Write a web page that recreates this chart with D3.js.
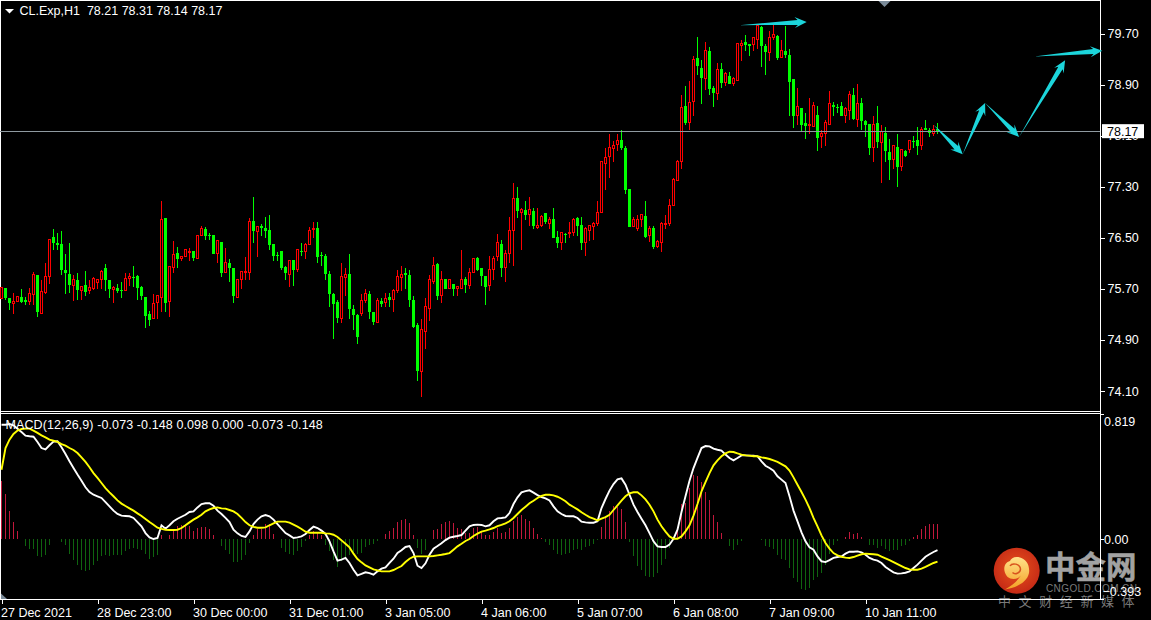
<!DOCTYPE html>
<html>
<head>
<meta charset="utf-8">
<script src="https://cdnjs.cloudflare.com/ajax/libs/d3/7.8.5/d3.min.js"></script>
<style>
html,body{margin:0;padding:0;background:#000;overflow:hidden}
svg{display:block}
text{font-family:"Liberation Sans",Arial,sans-serif;font-size:12.5px;fill:#fff}
</style>
</head>
<body>
<svg id="c" width="1151" height="620"></svg>
<script>
const opens=[
75.55,75.71,75.56,75.47,75.50,75.57,75.53,75.50,75.61,75.92,
75.32,75.64,75.89,76.51,76.42,76.40,76.00,75.93,75.75,75.84,
75.68,75.76,75.67,75.70,75.80,75.84,76.03,75.84,75.69,75.71,
75.68,75.67,75.86,75.89,75.90,75.73,75.57,75.31,75.23,75.48,
75.56,76.81,75.50,76.03,76.26,76.17,76.21,76.29,76.29,76.17,
76.53,76.64,76.54,76.54,76.26,76.43,75.95,76.11,76.03,75.56,
75.85,75.95,75.95,76.76,76.60,76.68,76.65,76.62,76.40,76.23,
76.29,76.04,75.93,76.15,76.01,
76.29,76.28,76.40,76.63,76.65,76.23,76.22,75.93,75.62,75.50,
75.24,75.88,75.93,75.39,75.29,75.31,75.51,75.62,75.34,75.17,
75.51,75.48,75.57,75.54,75.68,75.88,75.95,75.92,75.53,75.13,
74.40,75.03,75.39,75.81,76.09,75.60,75.85,75.71,75.78,75.70,
75.70,75.85,75.76,75.95,76.18,76.03,75.90,75.75,76.00,76.20,
76.40,76.03,76.25,76.62,77.12,76.90,76.94,76.86,76.92,76.66,
76.69,76.89,76.73,76.79,76.51,76.42,76.56,76.56,76.59,76.81,
76.70,76.42,76.62,76.67,76.72,
76.89,77.67,77.77,77.90,77.96,78.03,77.91,77.27,76.67,76.64,
76.78,76.84,76.53,76.65,76.36,76.43,76.72,76.72,77.01,77.40,
77.69,78.56,78.30,78.64,79.32,79.16,78.99,79.43,78.85,78.76,
79.14,78.94,79.03,78.91,78.97,79.51,79.57,79.54,79.52,79.60,
79.80,79.50,79.40,79.63,79.66,79.33,79.43,79.36,78.99,78.42,
78.53,78.30,78.26,78.25,78.42,78.08,78.13,78.28,78.58,78.55,
78.56,78.42,78.49,78.74,78.36,78.61,78.33,78.28,77.91,78.30,
78.00,78.14,77.84,77.73,77.92,77.61,77.86,77.89,78.02,78.03,
77.95,78.22,78.19,78.13,78.21];
const highs=[
75.72,75.71,75.56,75.65,75.58,75.71,75.58,75.72,75.97,75.92,
75.85,76.12,76.49,76.65,76.59,76.61,76.26,76.43,75.93,75.95,
75.76,75.98,75.84,75.90,75.87,76.01,76.09,75.84,75.75,75.79,
75.82,75.95,75.95,76.07,75.92,75.75,75.57,75.36,75.63,75.60,
77.09,76.81,76.07,76.45,76.37,76.23,76.32,76.34,76.29,76.54,
76.70,76.68,76.59,76.54,76.45,76.43,76.34,76.18,76.04,75.85,
75.98,76.21,76.81,77.15,76.70,76.73,76.83,76.86,76.40,76.29,
76.29,76.07,76.15,76.15,76.32,
76.43,76.43,76.67,76.76,76.76,76.29,76.25,75.98,75.65,75.53,
76.11,76.04,76.26,75.46,75.31,75.62,75.71,75.68,75.34,75.57,
75.56,75.64,75.65,75.70,76.00,76.07,76.03,76.00,75.59,75.18,
75.24,75.56,75.92,76.20,76.12,75.98,75.85,75.85,75.78,75.76,
76.31,75.89,76.03,76.18,76.20,76.04,75.90,76.23,76.22,76.56,
76.48,76.31,76.84,77.37,77.30,76.98,77.08,77.14,76.98,76.97,
76.86,76.89,76.83,76.97,76.61,76.59,76.59,76.76,76.81,76.83,
76.84,76.67,76.70,76.76,77.08,
77.69,77.92,78.13,78.02,78.14,78.19,77.95,77.27,76.84,76.87,
76.87,77.08,76.70,76.70,76.48,76.76,76.87,77.12,77.44,77.73,
78.75,78.89,78.97,79.36,79.65,79.30,79.57,79.50,78.88,79.24,
79.25,79.10,79.10,79.03,79.54,79.60,79.68,79.54,79.63,79.86,
79.83,79.55,79.75,79.84,79.69,79.61,79.82,79.47,79.00,78.85,
78.53,78.47,78.69,78.64,78.58,78.20,78.35,78.81,78.64,78.60,
78.63,78.55,78.81,78.85,78.92,78.69,78.36,78.28,78.41,78.58,
78.27,78.24,78.06,77.95,78.14,77.89,77.89,78.02,78.10,78.25,
78.25,78.35,78.22,78.28,78.31];
const lows=[
75.55,75.53,75.37,75.31,75.50,75.49,75.46,75.45,75.46,75.26,
75.32,75.62,75.78,76.31,76.32,75.93,75.62,75.65,75.52,75.53,
75.53,75.59,75.63,75.69,75.70,75.70,75.67,75.56,75.48,75.65,
75.57,75.67,75.75,75.73,75.54,75.53,75.09,75.12,75.23,75.24,
75.34,75.34,75.27,75.95,76.04,76.15,76.20,76.15,76.14,76.17,
76.53,76.48,76.48,76.25,76.11,75.89,75.95,75.81,75.49,75.56,
75.71,75.85,75.85,76.43,76.20,76.53,76.50,76.31,76.15,76.15,
76.01,75.85,75.73,75.75,75.97,
76.23,76.18,76.39,76.51,76.12,76.06,75.85,75.43,74.92,75.17,
75.17,75.60,75.24,75.06,74.85,75.29,75.48,75.23,75.14,75.17,
75.42,75.43,75.43,75.35,75.64,75.68,75.70,75.43,75.10,74.26,
74.01,74.77,75.21,75.78,75.54,75.48,75.70,75.70,75.60,75.60,
75.70,75.64,75.70,75.95,75.98,75.75,75.45,75.67,75.84,76.14,
75.90,75.82,76.12,76.07,76.81,76.31,76.79,76.70,76.64,76.64,
76.67,76.72,76.65,76.50,76.34,76.32,76.43,76.50,76.53,76.53,
76.31,76.22,76.45,76.47,76.69,
76.89,77.25,77.44,77.70,77.86,77.89,77.19,76.67,76.67,76.62,
76.67,76.50,76.44,76.33,76.34,76.29,76.65,76.69,77.01,77.39,
77.58,78.27,78.20,78.42,79.05,78.61,78.83,78.74,78.55,78.67,
78.85,78.88,78.91,78.88,78.97,79.27,79.43,79.36,79.43,79.47,
79.19,79.05,79.27,79.60,79.29,79.32,79.33,78.42,78.22,78.28,
78.16,78.06,78.13,78.25,77.86,77.92,77.94,78.27,78.41,78.47,
78.41,78.30,78.35,78.35,78.25,78.19,78.09,77.80,77.70,77.91,
77.36,77.69,77.41,77.58,77.31,77.55,77.77,77.83,77.91,77.80,
77.89,78.19,78.09,78.11,78.14];
const closes=[
75.72,75.56,75.48,75.50,75.58,75.49,75.50,75.63,75.93,75.33,
75.66,75.90,76.48,76.42,76.39,76.00,75.95,75.76,75.85,75.68,
75.74,75.65,75.72,75.86,75.85,75.97,75.84,75.70,75.72,75.67,
75.67,75.87,75.90,75.88,75.71,75.59,75.27,75.21,75.47,75.59,
76.79,75.48,76.05,76.24,76.17,76.21,76.32,76.29,76.18,76.54,
76.65,76.53,76.53,76.25,76.45,75.95,76.12,76.03,75.59,75.85,
75.97,75.97,76.76,76.61,76.67,76.65,76.61,76.39,76.21,76.22,
76.03,75.95,76.15,76.00,76.31,
76.27,76.40,76.62,76.65,76.20,76.22,75.93,75.62,75.46,75.24,
75.90,75.92,75.39,75.29,74.95,75.51,75.62,75.34,75.18,75.51,
75.46,75.55,75.53,75.68,75.90,75.93,75.92,75.53,75.10,74.41,
75.06,75.42,75.85,76.07,75.59,75.85,75.70,75.84,75.70,75.73,
75.85,75.76,75.96,76.18,76.00,75.90,75.73,76.01,76.18,76.42,
76.03,76.25,76.62,77.12,76.92,76.94,76.86,76.94,76.69,76.70,
76.83,76.75,76.78,76.50,76.42,76.58,76.54,76.59,76.79,76.69,
76.42,76.65,76.69,76.72,76.90,
77.69,77.76,77.92,77.95,78.03,77.91,77.25,76.67,76.79,76.79,
76.86,76.51,76.65,76.36,76.44,76.72,76.73,77.01,77.42,77.70,
78.54,78.30,78.62,79.30,79.19,79.00,79.44,78.83,78.77,79.14,
78.92,79.07,78.91,79.00,79.54,79.55,79.52,79.50,79.63,79.83,
79.50,79.41,79.63,79.68,79.32,79.43,79.36,78.94,78.41,78.55,
78.27,78.25,78.27,78.58,78.06,78.14,78.31,78.60,78.55,78.54,
78.41,78.52,78.74,78.36,78.60,78.33,78.27,77.91,78.28,78.00,
78.16,77.86,77.72,77.94,77.61,77.88,77.78,78.02,78.00,77.94,
78.20,78.19,78.14,78.20,78.17];
const macdMain=[
.749,.749,.753,.745,.723,.701,.677,.673,.670,.636,
.596,.587,.614,.638,.640,.601,.557,.509,.465,.422,
.382,.339,.308,.290,.280,.269,.242,.214,.186,.164,
.153,.151,.149,.138,.111,.083,.039,.011,0,.007,
.090,.068,.090,.116,.133,.146,.159,.177,.181,.207,
.229,.234,.234,.218,.186,.164,.138,.111,.061,.037,
.020,.013,.050,.098,.127,.149,.157,.149,.127,.098,
.068,.039,.024,.007,.011,.017,.033,.059,.081,.072,
.055,.033,-.015,-.081,-.142,-.135,-.124,-.157,-.201,-.238,
-.229,-.218,-.223,-.234,-.212,-.194,-.186,-.157,-.129,-.092,
-.074,-.052,-.046,-.092,-.175,-.190,-.159,-.103,-.063,-.046,
-.028,-.007,.009,.015,.020,.026,.055,.083,.092,.094,
.092,.083,.090,.116,.135,.138,.142,.170,.229,.273,
.306,.314,.319,.304,.288,.275,.266,.253,.214,.181,
.164,.151,.149,.149,.138,.114,.109,.107,.107,.116,
.203,.262,.317,.360,.391,.397,.356,.290,.225,.177,
.133,.090,.039,-.015,-.048,-.052,-.052,-.037,.002,.061,
.177,.280,.382,.465,.531,.596,.609,.607,.592,.585,
.579,.553,.531,.515,.531,.548,.548,.546,.546,.542,
.509,.480,.465,.448,.411,.389,.367,.280,.186,.116,
.044,-.015,-.055,-.070,-.114,-.146,-.151,-.138,-.124,-.118,
-.114,-.096,-.083,-.083,-.081,-.087,-.103,-.124,-.135,-.142,
-.157,-.183,-.201,-.218,-.227,-.225,-.221,-.212,-.190,-.168,
-.142,-.116,-.100,-.085,-.073];
const macdSignal=[
.454,.596,.651,.688,.710,.721,.723,.723,.710,.695,
.679,.666,.651,.644,.636,.622,.612,.596,.583,.563,
.535,.505,.470,.432,.400,.367,.334,.306,.280,.253,
.232,.216,.201,.186,.168,.151,.131,.111,.094,.074,
.066,.061,.059,.059,.061,.072,.090,.109,.127,.142,
.159,.181,.194,.203,.207,.201,.199,.190,.181,.164,
.138,.111,.090,.079,.074,.074,.076,.090,.103,.114,
.114,.114,.107,.094,.081,.066,.048,.041,.041,.041,
.041,.037,.035,.028,.013,-.009,-.031,-.055,-.096,-.131,
-.153,-.173,-.186,-.199,-.205,-.212,-.212,-.212,-.203,-.190,
-.177,-.151,-.129,-.116,-.114,-.114,-.114,-.114,-.111,-.107,
-.103,-.098,-.092,-.070,-.048,-.031,-.013,0,.020,.035,
.048,.055,.063,.072,.085,.092,.103,.116,.138,.164,
.190,.212,.234,.251,.269,.282,.290,.290,.286,.277,
.264,.247,.225,.210,.194,.175,.159,.144,.133,.122,
.133,.144,.159,.190,.221,.251,.280,.299,.306,.306,
.286,.260,.225,.181,.127,.083,.048,.017,.002,.002,
.017,.050,.090,.153,.229,.312,.373,.432,.483,.515,
.542,.561,.572,.570,.561,.553,.548,.546,.542,.542,
.535,.531,.524,.515,.505,.491,.476,.448,.404,.356,
.308,.258,.203,.138,.083,.024,-.026,-.063,-.092,-.107,
-.116,-.122,-.124,-.118,-.109,-.100,-.096,-.098,-.100,-.103,
-.116,-.127,-.138,-.151,-.164,-.177,-.190,-.199,-.201,-.201,
-.194,-.183,-.170,-.157,-.148];
const macdHist=[
.382,.295,.186,.111,.050,.002,-.046,-.068,-.066,-.109,
-.120,-.103,-.037,-.002,.002,-.020,-.041,-.098,-.135,-.173,
-.201,-.212,-.201,-.168,-.146,-.114,-.107,-.109,-.107,-.107,
-.103,-.081,-.063,-.059,-.063,-.072,-.096,-.129,-.120,-.103,
.024,0,.028,.061,.083,.094,.090,.083,.055,.072,
.079,.079,.066,.024,.002,-.046,-.070,-.096,-.153,-.151,
-.135,-.103,-.028,.024,.068,.068,.098,.098,.033,.002,
-.059,-.085,-.098,-.103,-.081,-.055,-.011,.024,.055,.039,
.024,-.037,-.081,-.135,-.186,-.146,-.124,-.103,-.092,-.098,
-.092,-.055,-.041,-.033,-.015,.002,.033,.055,.072,.111,
.127,.133,.105,.028,-.059,-.096,-.070,-.002,.061,.066,
.100,.114,.120,.105,.072,.066,.039,.039,.072,.076,
.050,.028,.028,.046,.072,.039,.044,.072,.116,.142,
.159,.133,.120,.072,.033,.007,-.020,-.037,-.072,-.098,
-.107,-.098,-.094,-.072,-.063,-.070,-.055,-.046,-.033,-.004,
.076,.149,.186,.214,.207,.199,.109,-.022,-.114,-.177,
-.205,-.245,-.247,-.251,-.223,-.173,-.129,-.059,0,.061,
.229,.236,.334,.417,.415,.373,.308,.258,.159,.109,
.041,0,-.046,-.070,-.037,-.011,-.002,-.002,0,.002,
-.004,-.048,-.055,-.068,-.107,-.129,-.135,-.188,-.256,-.282,
-.325,-.332,-.321,-.266,-.251,-.223,-.168,-.098,-.037,-.015,
0,.015,.046,.035,.039,.015,0,-.041,-.041,-.059,
-.048,-.063,-.081,-.072,-.074,-.048,-.037,-.011,.015,.028,
.066,.087,.100,.098,.098];
const priceTicks=[79.70,78.90,78.10,77.30,76.50,75.70,74.90,74.10];
const macdTicks=[0.819,0,-0.393];
const timeLabels=["27 Dec 2021","28 Dec 23:00","30 Dec 00:00","31 Dec 01:00","3 Jan 05:00","4 Jan 06:00","5 Jan 07:00","6 Jan 08:00","7 Jan 09:00","10 Jan 11:00"];
const lastPrice=78.17;
const titleText="CL.Exp,H1  78.21 78.31 78.14 78.17";
const macdTitle="MACD(12,26,9) -0.073 -0.148 0.098 0.000 -0.073 -0.148";
const arrows=[
 [[184.4,79.83],[201.3,79.88]],
 [[233,78.27],[240.3,77.81]],
 [[240.3,77.81],[245.9,78.61]],
 [[245.9,78.61],[254.4,78.08]],
 [[254.4,78.08],[265.9,79.28]],
 [[258.2,79.34],[275.2,79.43]]];
const wmTitle="中金网", wmSite="CNGOLD.COM.CN", wmTag="中文财经新媒体";

const svg=d3.select("#c");
svg.append("rect").attr("width",1151).attr("height",620).attr("fill","#000");
const x=d3.scaleLinear().domain([0,234]).range([1.5,937.5]);
const y=d3.scaleLinear().domain([74.10,79.70]).range([391,33.5]);
const m=d3.scaleLinear().domain([-0.393,0.819]).range([599,414]);
const crisp=v=>Math.round(v-.5)+.5;

/* watermark sits under the axes */
const defs=svg.append("defs");
const rg=defs.append("radialGradient").attr("id","logoBg").attr("cx","50%").attr("cy","45%").attr("r","55%");
rg.append("stop").attr("offset","0%").attr("stop-color","#e8521c");
rg.append("stop").attr("offset","100%").attr("stop-color","#c52a16");
const lg=defs.append("linearGradient").attr("id","logoFg").attr("x1","0").attr("y1","0").attr("x2","0").attr("y2","1");
lg.append("stop").attr("offset","0%").attr("stop-color","#ffe28a");
lg.append("stop").attr("offset","100%").attr("stop-color","#f4a024");
const wm=svg.append("g");
wm.append("circle").attr("cx",1016.7).attr("cy",570.7).attr("r",23).attr("fill","url(#logoBg)");
wm.append("path").attr("fill","url(#logoFg)")
 .attr("d","M1005,589.5 C1015,588 1027,583 1029,573 C1030,565 1026,559 1020,557.5 C1015,556 1011,558 1010,561 C1006,562 1003.5,566 1004.5,571 C1005.5,576 1009,579 1013.5,579 C1018,579 1022,576 1022,571 C1021.5,577 1016,583 1005,589.5 Z");
wm.append("path").attr("fill","none").attr("stroke","#d8541e").attr("stroke-width",1.5)
 .attr("d","M1010,566 C1012,562.5 1020,563.5 1020.5,569 C1020.5,573 1015,575 1012.5,572.5");
wm.append("text").text(wmTitle).attr("x",1045).attr("y",578)
 .style("font-family","'Noto Sans CJK SC'").style("font-weight",700).style("font-size","30.5px")
 .style("fill","#a2a2a2").style("stroke","#a2a2a2").style("stroke-width","0.5px");
wm.append("text").text(wmSite).attr("x",1046).attr("y",592)
 .style("font-size","10px").style("letter-spacing","0.4px").style("fill","#7a7a7a");
wm.append("text").text(wmTag).attr("x",998).attr("y",606)
 .style("font-family","'Noto Sans CJK SC'").style("font-size","13px").style("letter-spacing","7.6px").style("fill","#7a7a7a");

/* frame */
const frame=svg.append("g").attr("stroke","#fff").attr("stroke-width",1).attr("shape-rendering","crispEdges");
[[0,0.5,1100.5,0.5],[0,411.5,1100.5,411.5],[0,413.5,1100.5,413.5],[0,599.5,1100.5,599.5],[1100.5,0,1100.5,600],[0.5,0,0.5,600]]
 .forEach(l=>frame.append("line").attr("x1",l[0]).attr("y1",l[1]).attr("x2",l[2]).attr("y2",l[3]));

/* MACD histogram */
svg.append("g").attr("shape-rendering","crispEdges").selectAll("line").data(macdHist).join("line")
 .attr("x1",(d,i)=>x(i)).attr("x2",(d,i)=>x(i))
 .attr("y1",m(0)).attr("y2",d=>m(d))
 .attr("stroke",d=>d>=0?"#c2183c":"#0f640f").attr("stroke-width",1);

/* MACD lines */
const lineOf=d3.line().x((d,i)=>x(i)).y(d=>m(d));
svg.append("path").datum(macdMain).attr("d",lineOf).attr("fill","none").attr("stroke","#fff").attr("stroke-width",1.9);
svg.append("path").datum(macdSignal).attr("d",lineOf).attr("fill","none").attr("stroke","#ffff00").attr("stroke-width",1.9);

/* candles */
const candles=d3.range(opens.length);
const cg=svg.append("g").attr("shape-rendering","crispEdges");
cg.selectAll("line").data(candles).join("line")
 .attr("x1",i=>x(i)).attr("x2",i=>x(i))
 .attr("y1",i=>crisp(y(highs[i]))).attr("y2",i=>crisp(y(lows[i])))
 .attr("stroke",i=>closes[i]>=opens[i]?"#ff0000":"#00ff00");
cg.selectAll("rect").data(candles).join("rect")
 .attr("x",i=>closes[i]>=opens[i]?x(i)-1:x(i)-1.5)
 .attr("width",i=>closes[i]>=opens[i]?2:3)
 .attr("y",i=>closes[i]>=opens[i]?crisp(y(closes[i])):Math.round(y(opens[i])))
 .attr("height",i=>closes[i]>=opens[i]
    ?Math.max(1,crisp(y(opens[i]))-crisp(y(closes[i])))
    :Math.max(1,Math.round(y(closes[i]))-Math.round(y(opens[i]))))
 .attr("fill",i=>closes[i]>=opens[i]?"#000":"#00ff00")
 .attr("stroke",i=>closes[i]>=opens[i]?"#ff0000":"none");

/* last price line */
svg.append("line").attr("x1",0).attr("x2",1100).attr("y1",crisp(y(lastPrice))).attr("y2",crisp(y(lastPrice)))
 .attr("stroke","#8f9aa0").attr("shape-rendering","crispEdges");

/* drawn arrows */
function arrowPath(a,b){
 const x0=x(a[0]),y0=y(a[1]),x1=x(b[0]),y1=y(b[1]);
 const L=Math.hypot(x1-x0,y1-y0),ux=(x1-x0)/L,uy=(y1-y0)/L,nx=-uy,ny=ux;
 const hl=12,sw=2.5,hw=5.5;
 const P=(t,s)=>[x0+ux*t+nx*s,y0+uy*t+ny*s];
 return "M"+[P(0,0),P(L-hl+3,sw),P(L-hl,hw),P(L,0),P(L-hl,-hw),P(L-hl+3,-sw)].map(p=>p.join(",")).join("L")+"Z";
}
svg.append("g").selectAll("path").data(arrows).join("path")
 .attr("d",d=>arrowPath(d[0],d[1])).attr("fill","#1cd5db");

/* axes */
const ay=d3.axisRight(y).tickValues(priceTicks).tickSize(4).tickPadding(3).tickFormat(d3.format(".2f"));
const gy=svg.append("g").attr("transform","translate(1100.5,0)").call(ay);
const am=d3.axisRight(m).tickValues(macdTicks).tickSize(3).tickPadding(0.5)
 .tickFormat(d=>d===0?"0.00":d3.format(".3f")(d));
const gm=svg.append("g").attr("transform","translate(1100.5,0)").call(am);
gm.selectAll(".tick text").attr("dy",(d,i)=>d===0?"0.32em":d>0?"0.9em":"-0.3em");
gm.selectAll(".tick").filter(d=>d<0).select("text").attr("x",2);
const timeTicks=d3.range(0,234,24);
const ax=d3.axisBottom(x).tickValues(timeTicks).tickSize(4).tickPadding(3)
 .tickFormat((d,i)=>timeLabels[i]);
const gx=svg.append("g").attr("transform","translate(0,599.5)").call(ax);
gx.selectAll(".tick text").attr("text-anchor","start").attr("x",(d,i)=>i===0?-1:-1).attr("y",6).attr("dy","0.9em");
[gy,gm,gx].forEach(g=>{g.select(".domain").remove();g.attr("font-family",null).attr("font-size",null);
 g.selectAll(".tick line").attr("stroke","#fff").attr("shape-rendering","crispEdges");
 g.selectAll(".tick text").attr("fill","#fff");});

/* last price box */
svg.append("rect").attr("x",1102).attr("y",y(lastPrice)-7).attr("width",42).attr("height",14).attr("fill","#fff");
svg.append("text").text(d3.format(".2f")(lastPrice)).attr("x",1107).attr("y",y(lastPrice)+4.5).style("fill","#000");

/* titles */
svg.append("path").attr("d","M5,9L14,9L9.5,13.5Z").attr("fill","#fff");
svg.append("text").text(titleText).attr("x",19.5).attr("y",15).attr("xml:space","preserve").style("white-space","pre");
svg.append("text").text(macdTitle).attr("x",5.5).attr("y",429).style("letter-spacing","0.1px");

/* small grey markers */
svg.append("path").attr("d","M878.5,1L890.5,1L884.5,7Z").attr("fill","#7a8a98");
svg.append("path").attr("d","M1,593.5L1,599L7,599Z").attr("fill","#7a8a98");
</script>
</body>
</html>
